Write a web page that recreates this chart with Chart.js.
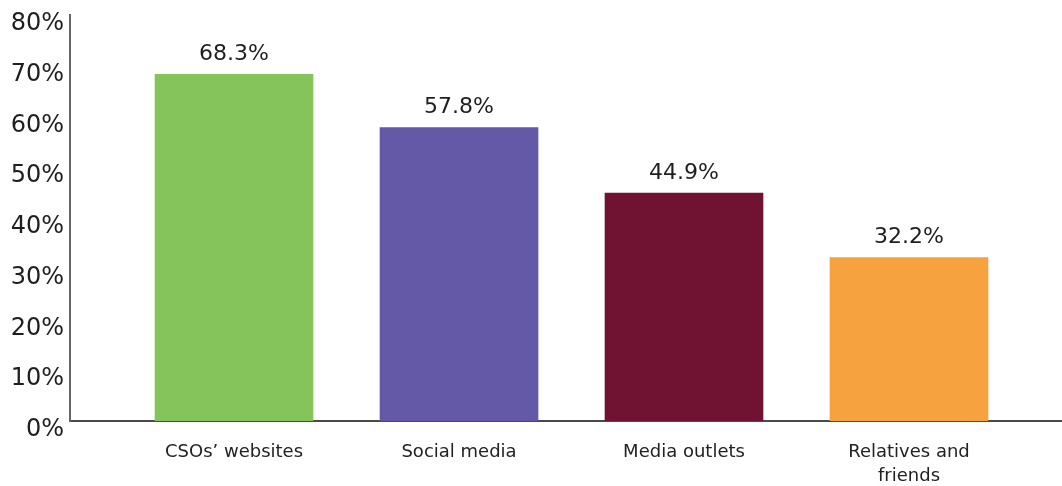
<!DOCTYPE html>
<html>
<head>
<meta charset="utf-8">
<script src="https://cdn.jsdelivr.net/npm/chart.js@4/dist/chart.umd.min.js"></script>
<style>
  html, body { margin: 0; padding: 0; background: #fff; }
  #wrap { width: 1062px; height: 486px; position: relative; }
</style>
</head>
<body>
<div id="wrap"><canvas id="chart"></canvas></div>
<script>
const categories = ["CSOs’ websites", "Social media", "Media outlets", ["Relatives and", "friends"]];
const shares = [68.3, 57.8, 44.9, 32.2];
const barColors = ["#84c45a", "#6459a6", "#701232", "#f6a33f"];
const yTicks = [0, 10, 20, 30, 40, 50, 60, 70, 80];

const FONT = "'DejaVu Sans', sans-serif";

// value labels above each bar
const barValueLabels = {
  id: "barValueLabels",
  afterDatasetsDraw(chart) {
    const ctx = chart.ctx;
    const meta = chart.getDatasetMeta(0);
    ctx.save();
    ctx.font = "22px " + FONT;
    ctx.fillStyle = "#1e1e1e";
    ctx.textAlign = "center";
    ctx.textBaseline = "middle";
    meta.data.forEach((bar, i) => {
      ctx.fillText(shares[i].toFixed(1) + "%", bar.x, bar.y - 20);
    });
    ctx.restore();
  },
};

new Chart(document.getElementById("chart"), {
  type: "bar",
  data: {
    datasets: [
      {
        data: shares.map((v, i) => ({ x: i, y: v })),
        backgroundColor: barColors,
        barThickness: 158,
      },
    ],
  },
  options: {
    responsive: true,
    maintainAspectRatio: false,
    animation: false,
    layout: { padding: { top: 15, right: 0, bottom: 0, left: 0 } },
    plugins: {
      legend: { display: false },
      tooltip: { enabled: false },
    },
    scales: {
      x: {
        type: "linear",
        offset: false,
        min: -0.729,
        max: 3.68,
        afterBuildTicks: (scale) => {
          scale.ticks = categories.map((c, i) => ({ value: i }));
        },
        afterFit: (scale) => {
          scale.height = 65;
          scale.paddingLeft = 0;
          scale.paddingRight = 0;
        },
        grid: { display: false, drawTicks: false, offset: false },
        border: { display: true, color: "#4a4a4a", width: 2 },
        ticks: {
          autoSkip: false,
          maxRotation: 0,
          padding: 19,
          color: "#222",
          font: { family: FONT, size: 18, lineHeight: 1.33 },
          callback: (value) => categories[value] ?? "",
        },
      },
      y: {
        min: 0,
        max: 80,
        afterBuildTicks: (scale) => {
          scale.ticks = yTicks.map((v) => ({ value: v }));
        },
        afterFit: (scale) => {
          scale.width = 70;
          scale.paddingTop = 0;
          scale.paddingBottom = 0;
        },
        grid: { display: false, drawTicks: false },
        border: { display: true, color: "#666", width: 2 },
        ticks: {
          padding: 6,
          labelOffset: 9,
          color: "#1e1e1e",
          font: { family: FONT, size: 24 },
          callback: (value) => value + "%",
        },
      },
    },
  },
  plugins: [barValueLabels],
});
</script>
</body>
</html>
